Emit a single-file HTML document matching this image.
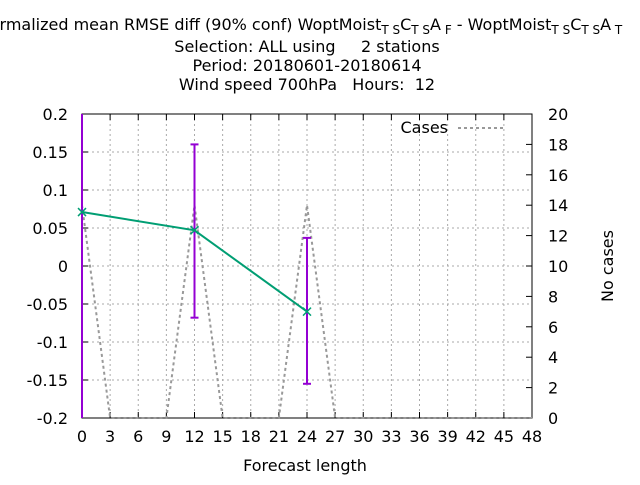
<!DOCTYPE html>
<html><head><meta charset="utf-8"><style>
body{margin:0;background:#fff}
svg{font-family:"DejaVu Sans","Liberation Sans",sans-serif;font-size:16px}
text{white-space:pre}
</style></head><body>
<svg width="640" height="480">
<g id="title" text-anchor="middle" fill="#000">
<text x="307" y="52" xml:space="preserve">Selection: ALL using     2 stations</text>
<text x="307" y="71">Period: 20180601-20180614</text>
<text x="307" y="90" xml:space="preserve">Wind speed 700hPa   Hours:  12</text>
<text x="300" y="30" xml:space="preserve">Normalized mean RMSE diff (90% conf) WoptMoist<tspan font-size="12" dy="4">T S</tspan><tspan dy="-4">C</tspan><tspan font-size="12" dy="4">T S</tspan><tspan dy="-4">A</tspan><tspan font-size="12" dy="4"> F</tspan><tspan dy="-4"> - WoptMoist</tspan><tspan font-size="12" dy="4">T S</tspan><tspan dy="-4">C</tspan><tspan font-size="12" dy="4">T S</tspan><tspan dy="-4">A</tspan><tspan font-size="12" dy="4"> T</tspan></text>
</g>
<g id="grid"></g>
<g id="axes"></g>
<g id="series"></g>
<text x="305" y="471" text-anchor="middle">Forecast length</text>
<text transform="translate(613,266) rotate(-90)" text-anchor="middle">No cases</text>
<g>
<text x="448" y="133" text-anchor="end">Cases</text>
<line x1="458" y1="128" x2="506" y2="128" stroke="#999" stroke-width="2" stroke-dasharray="3,3"/>
</g>
</svg>
<script>
const xTicks=[0,3,6,9,12,15,18,21,24,27,30,33,36,39,42,45,48];
const yTicks=[-0.2,-0.15,-0.1,-0.05,0,0.05,0.1,0.15,0.2];
const yTickLabels=["-0.2","-0.15","-0.1","-0.05","0","0.05","0.1","0.15","0.2"];
const y2Ticks=[0,2,4,6,8,10,12,14,16,18,20];
const leads=[0,12,24];
const values=[0.071,0.047,-0.060];
const errLow=[-0.25,-0.068,-0.155];
const errHigh=[0.25,0.160,0.037];
const caseLeads=[0,3,6,9,12,15,18,21,24,27,30,33,36,39,42,45,48];
const cases=[14,0,0,0,14,0,0,0,14,0,0,0,0,0,0,0,0];
const L=82,R=532,T=114,B=418,NS="http://www.w3.org/2000/svg";
const X=v=>L+(v/48)*(R-L);
const Y=v=>B-(v+0.2)/0.4*(B-T);
const Y2=v=>B-v/20*(B-T);
const clampY=v=>Math.max(T,Math.min(B,Y(v)));
function mk(p,tag,a,txt){const e=document.createElementNS(NS,tag);for(const k in a)e.setAttribute(k,a[k]);if(txt!==undefined)e.textContent=txt;p.appendChild(e);return e;}
const grid=document.getElementById('grid'),axes=document.getElementById('axes'),ser=document.getElementById('series');
xTicks.forEach(t=>{
 if(t>0&&t<48)mk(grid,'line',{x1:X(t),x2:X(t),y1:T,y2:B,stroke:'#aaa','stroke-dasharray':'2,3'});
 mk(axes,'line',{x1:X(t),x2:X(t),y1:B,y2:B-6,stroke:'#000'});
 mk(axes,'line',{x1:X(t),x2:X(t),y1:T,y2:T+6,stroke:'#000'});
 const e=mk(axes,'text',{x:X(t),y:B+24,'text-anchor':'middle'},String(t));
 
 
});
yTicks.forEach((t,i)=>{
 if(i>0&&i<yTicks.length-1)mk(grid,'line',{x1:L,x2:R,y1:Y(t),y2:Y(t),stroke:'#aaa','stroke-dasharray':'2,3'});
 mk(axes,'line',{x1:L,x2:L+6,y1:Y(t),y2:Y(t),stroke:'#000'});
 const e=mk(axes,'text',{x:L-14,y:Y(t)+6,'text-anchor':'end'},yTickLabels[i]);
 
 
});
y2Ticks.forEach(t=>{
 mk(axes,'line',{x1:R,x2:R-6,y1:Y2(t),y2:Y2(t),stroke:'#000'});
 const e=mk(axes,'text',{x:R+16,y:Y2(t)+6},String(t));
 
 
});
mk(axes,'rect',{x:L,y:T,width:R-L,height:B-T,fill:'none',stroke:'#000'});
const cl=mk(ser,'polyline',{points:caseLeads.map((v,i)=>X(v)+','+Y2(cases[i])).join(' '),fill:'none',stroke:'#999','stroke-width':2,'stroke-dasharray':'3,3'});


leads.forEach((v,i)=>{
 const g=mk(ser,'g',{stroke:'#9400d3','stroke-width':2});
 
 
 mk(g,'line',{x1:X(v),x2:X(v),y1:clampY(errLow[i]),y2:clampY(errHigh[i])});
 if(errHigh[i]<0.2)mk(g,'line',{x1:X(v)-4,x2:X(v)+4,y1:Y(errHigh[i]),y2:Y(errHigh[i])});
 if(errLow[i]>-0.2)mk(g,'line',{x1:X(v)-4,x2:X(v)+4,y1:Y(errLow[i]),y2:Y(errLow[i])});
});
const ml=mk(ser,'polyline',{points:leads.map((v,i)=>X(v)+','+Y(values[i])).join(' '),fill:'none',stroke:'#009e73','stroke-width':2});


leads.forEach((v,i)=>{
 const g=mk(ser,'g',{stroke:'#009e73','stroke-width':1.5});
 
 
 const x=X(v),y=Y(values[i]);
 mk(g,'line',{x1:x-4,y1:y-4,x2:x+4,y2:y+4});
 mk(g,'line',{x1:x-4,y1:y+4,x2:x+4,y2:y-4});
});
</script>
</body></html>
